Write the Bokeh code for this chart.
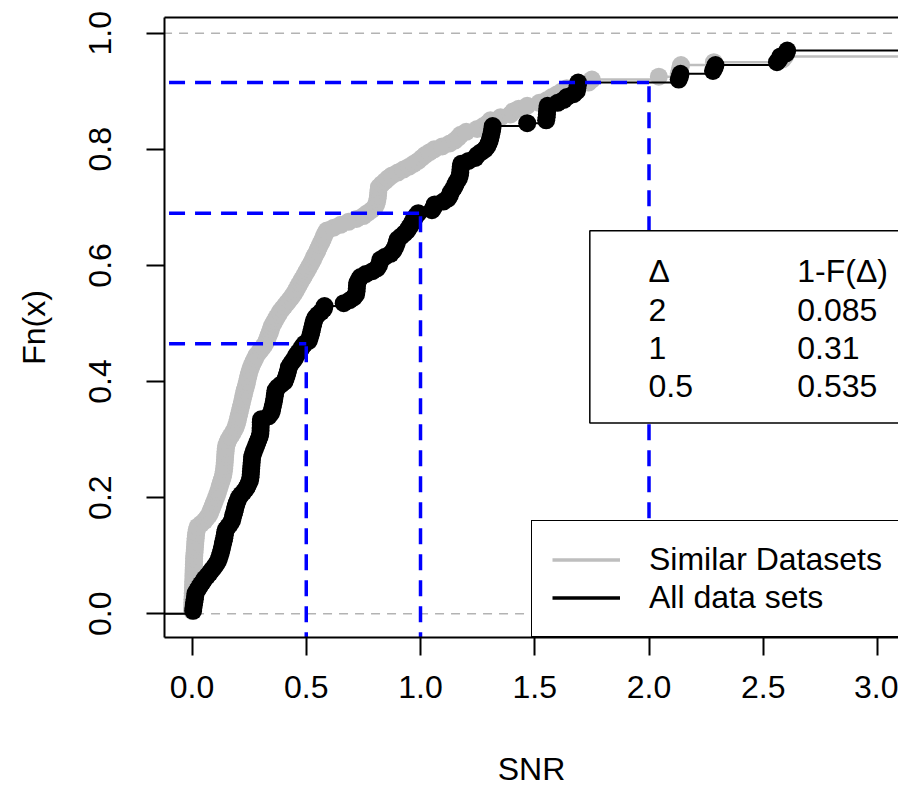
import numpy as np
from bokeh.plotting import figure
from bokeh.models import (ColumnDataSource, Range1d, FixedTicker, PrintfTickFormatter,
                          LinearAxis, Legend, LegendItem)
from bokeh.core.properties import value
from bokeh.embed import file_html
from bokeh.resources import INLINE

# ---------------- data ----------------
# SNR values of the "All data sets" sample (n = 200, last 6 lie beyond the visible x range)
snr_all = [
    0.005, 0.006, 0.008, 0.010, 0.012, 0.014, 0.015, 0.022, 0.030, 0.038,
    0.047, 0.055, 0.066, 0.077, 0.086, 0.096, 0.105, 0.113, 0.118, 0.122,
    0.126, 0.129, 0.132, 0.135, 0.138, 0.141, 0.143, 0.145, 0.148, 0.158,
    0.167, 0.175, 0.178, 0.181, 0.185, 0.188, 0.191, 0.195, 0.200, 0.205,
    0.215, 0.226, 0.236, 0.243, 0.249, 0.254, 0.256, 0.257, 0.258, 0.259,
    0.260, 0.261, 0.262, 0.263, 0.267, 0.271, 0.276, 0.281, 0.286, 0.291,
    0.296, 0.299, 0.300, 0.300, 0.301, 0.301, 0.302, 0.335, 0.345, 0.350,
    0.352, 0.355, 0.358, 0.360, 0.362, 0.364, 0.366, 0.375, 0.390, 0.405,
    0.410, 0.414, 0.418, 0.421, 0.424, 0.432, 0.441, 0.450, 0.456, 0.465,
    0.475, 0.483, 0.492, 0.511, 0.515, 0.519, 0.522, 0.525, 0.528, 0.531,
    0.534, 0.540, 0.550, 0.565, 0.577, 0.580, 0.664, 0.690, 0.708, 0.718,
    0.720, 0.721, 0.722, 0.723, 0.730, 0.737, 0.760, 0.790, 0.810, 0.818,
    0.822, 0.825, 0.845, 0.869, 0.880, 0.888, 0.893, 0.897, 0.900, 0.915,
    0.930, 0.942, 0.950, 0.958, 0.965, 0.971, 0.980, 0.990, 1.050, 1.058,
    1.062, 1.100, 1.120, 1.128, 1.131, 1.140, 1.148, 1.153, 1.160, 1.168,
    1.172, 1.174, 1.175, 1.176, 1.178, 1.210, 1.240, 1.248, 1.265, 1.282,
    1.292, 1.298, 1.303, 1.306, 1.309, 1.312, 1.314, 1.316, 1.467, 1.550,
    1.552, 1.553, 1.554, 1.555, 1.556, 1.600, 1.627, 1.640, 1.670, 1.684,
    1.686, 1.688, 1.690, 2.130, 2.135, 2.138, 2.280, 2.287, 2.291, 2.560,
    2.570, 2.575, 2.600, 2.605, 3.35, 3.6, 4.1, 4.8, 5.6, 6.9,
]

# SNR values of the "Similar Datasets" sample (n = 200, last 8 beyond the visible x range)
snr_similar = [
    0.000, 0.001, 0.001, 0.002, 0.002, 0.003, 0.003, 0.004, 0.004, 0.005,
    0.005, 0.006, 0.006, 0.007, 0.007, 0.008, 0.008, 0.009, 0.009, 0.010,
    0.011, 0.012, 0.013, 0.014, 0.015, 0.016, 0.017, 0.019, 0.021, 0.025,
    0.040, 0.055, 0.065, 0.075, 0.080, 0.085, 0.090, 0.095, 0.100, 0.105,
    0.110, 0.114, 0.118, 0.122, 0.126, 0.130, 0.134, 0.137, 0.139, 0.141,
    0.142, 0.143, 0.144, 0.145, 0.146, 0.147, 0.148, 0.150, 0.155, 0.160,
    0.168, 0.176, 0.183, 0.190, 0.194, 0.198, 0.201, 0.204, 0.207, 0.210,
    0.213, 0.216, 0.219, 0.222, 0.225, 0.228, 0.231, 0.235, 0.238, 0.241,
    0.244, 0.247, 0.250, 0.254, 0.259, 0.264, 0.270, 0.276, 0.282, 0.292,
    0.302, 0.312, 0.320, 0.326, 0.331, 0.336, 0.341, 0.345, 0.349, 0.356,
    0.363, 0.370, 0.378, 0.385, 0.395, 0.405, 0.415, 0.425, 0.435, 0.444,
    0.452, 0.459, 0.466, 0.473, 0.480, 0.488, 0.495, 0.502, 0.509, 0.516,
    0.523, 0.530, 0.535, 0.542, 0.548, 0.554, 0.560, 0.566, 0.572, 0.577,
    0.583, 0.590, 0.620, 0.650, 0.685, 0.720, 0.750, 0.767, 0.785, 0.800,
    0.806, 0.810, 0.812, 0.814, 0.815, 0.816, 0.818, 0.830, 0.845, 0.858,
    0.875, 0.900, 0.925, 0.950, 0.970, 0.990, 1.005, 1.020, 1.040, 1.060,
    1.095, 1.128, 1.150, 1.165, 1.175, 1.200, 1.248, 1.275, 1.295, 1.306,
    1.350, 1.394, 1.405, 1.430, 1.467, 1.520, 1.554, 1.575, 1.598, 1.620,
    1.640, 1.690, 1.735, 1.750, 2.043, 2.130, 2.134, 2.137, 2.140, 2.284,
    2.585, 2.595, 3.3, 3.5, 3.9, 4.4, 5.0, 5.7, 6.5, 8.0,
]

delta = [2, 1, 0.5]
tail_prob = [0.085, 0.31, 0.535]          # 1 - F(delta)
table_header = ["\u0394", "1-F(\u0394)"]
legend_labels = ["Similar Datasets", "All data sets"]
x_ticks = [0, 0.5, 1, 1.5, 2, 2.5, 3]
y_ticks = [0, 0.2, 0.4, 0.6, 0.8, 1.0]
x_title = "SNR"
y_title = "Fn(x)"

FONT = "Liberation Sans"
GRAY = "#BEBEBE"
BLUE = "#0000FF"


def ecdf(vals):
    xs = np.sort(np.asarray(vals, dtype=float))
    ys = np.arange(1, len(xs) + 1) / len(xs)
    return xs, ys


p = figure(frame_width=734, frame_height=620,
           min_border_left=164, min_border_right=0, min_border_top=17, min_border_bottom=151,
           x_range=Range1d(-0.1204, 3.0919), y_range=Range1d(-0.0409, 1.027),
           output_backend="svg", toolbar_location=None,
           background_fill_color="white", border_fill_color="white")
p.outline_line_color = None
p.grid.visible = False

for ax in (p.xaxis[0], p.yaxis[0]):
    ax.axis_line_width = 2
    ax.axis_line_color = "black"
    ax.major_tick_line_width = 2
    ax.major_tick_line_color = "black"
    ax.major_tick_out = 18
    ax.major_tick_in = 0
    ax.minor_tick_line_color = None
    ax.major_label_text_font = FONT
    ax.major_label_text_font_size = "32px"
    ax.major_label_text_color = "black"
    ax.axis_label_text_font = FONT
    ax.axis_label_text_font_size = "32px"
    ax.axis_label_text_font_style = "normal"
    ax.axis_label_text_color = "black"

p.xaxis.ticker = FixedTicker(ticks=x_ticks)
p.yaxis.ticker = FixedTicker(ticks=y_ticks)
p.xaxis.formatter = PrintfTickFormatter(format="%.1f")
p.yaxis.formatter = PrintfTickFormatter(format="%.1f")
p.yaxis.major_label_orientation = "vertical"
p.xaxis.axis_label = x_title
p.yaxis.axis_label = y_title
p.xaxis.major_label_standoff = 20
p.xaxis.axis_label_standoff = 50
p.yaxis.major_label_standoff = 35
p.yaxis.axis_label_standoff = 35

top_axis = LinearAxis(ticker=FixedTicker(ticks=[]), axis_line_width=2, axis_line_color="black",
                      major_tick_line_color=None, minor_tick_line_color=None,
                      major_label_text_font_size="0px", major_label_standoff=0)
p.add_layout(top_axis, "above")

# reference lines at 0 and 1
p.segment(x0=[-10, -10], x1=[100, 100], y0=[0, 1], y1=[0, 1],
          line_color="#B3B3B3", line_width=1.5, line_dash="9 7")


def add_ecdf(vals, color, lw, size):
    xs, ys = ecdf(vals)
    src = ColumnDataSource(dict(x0=np.r_[-10.0, xs], x1=np.r_[xs, 100.0], y=np.r_[0.0, ys]))
    p.segment(x0="x0", y0="y", x1="x1", y1="y", source=src, line_color=color, line_width=lw)
    p.scatter(xs, ys, size=size, fill_color=color, line_color=None)


add_ecdf(snr_similar, GRAY, 2.5, 18)
add_ecdf(snr_all, "black", 2, 18)

# blue guide lines at delta
fvals = [1 - t for t in tail_prob]
p.segment(x0=delta, x1=delta, y0=[-1] * len(delta), y1=fvals,
          line_color=BLUE, line_width=3.5, line_dash="16 10")
p.segment(x0=[-10] * len(delta), x1=delta, y0=fvals, y1=fvals,
          line_color=BLUE, line_width=3.5, line_dash="16 10")

# table box
p.quad(left=[1.741], right=[10], top=[0.6598], bottom=[0.3285],
       fill_color="white", line_color="black", line_width=1.5)
col1 = [table_header[0]] + [("%g" % d) for d in delta]
col2 = [table_header[1]] + [("%g" % t) for t in tail_prob]
row_y = [0.5897, 0.5237, 0.4577, 0.3916]
tsrc = ColumnDataSource(dict(x=[1.998] * 4 + [2.649] * 4, y=row_y + row_y, t=col1 + col2))
p.text(x="x", y="y", text="t", source=tsrc, text_font=value(FONT),
       text_font_size=value("32px"), text_baseline="middle", text_align="left",
       text_color="black")

# legend (key glyphs come from line renderers placed outside the visible range)
r_sim = p.line(x=[-5, -4], y=[-5, -5], line_color=GRAY, line_width=3.5)
r_all = p.line(x=[-5, -4], y=[-5, -5], line_color="black", line_width=3.5)
legend = Legend(items=[LegendItem(label=legend_labels[0], renderers=[r_sim]),
                       LegendItem(label=legend_labels[1], renderers=[r_all])],
                location=(367, 0), margin=0, padding=20, spacing=1,
                glyph_width=68, glyph_height=37, label_height=37, label_standoff=29,
                label_text_font=FONT, label_text_font_size="32px", label_text_color="black",
                border_line_color="black", border_line_width=1.5, border_line_alpha=1.0,
                background_fill_color="white", background_fill_alpha=1.0)
p.add_layout(legend)

open("out.html", "w").write(file_html(p, INLINE))
